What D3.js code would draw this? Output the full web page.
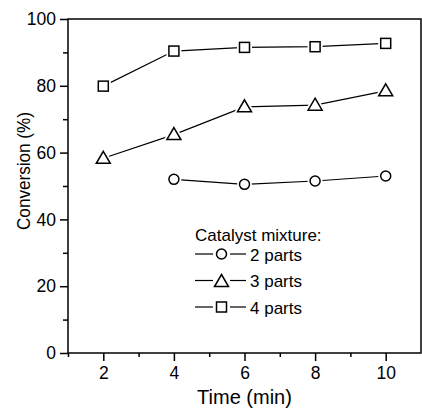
<!DOCTYPE html>
<meta charset="utf-8">
<script src="https://d3js.org/d3.v7.min.js"></script>
<style>
  body { margin: 0; background: #fff; }
  text { font-family: Arial, "Liberation Sans", sans-serif; fill: #000; }
</style>
<div id="chart"></div>
<script>
// data
var time = [2, 4, 6, 8, 10];
var time2 = [4, 6, 8, 10];
var parts2 = [52.0, 50.5, 51.5, 53.0];
var parts3 = [58.3, 65.4, 73.7, 74.2, 78.5];
var parts4 = [79.9, 90.4, 91.5, 91.7, 92.7];
var xTicks = [2, 4, 6, 8, 10];
var yTicks = [0, 20, 40, 60, 80, 100];
var legendLabels = ["2 parts", "3 parts", "4 parts"];

var W = 422, H = 408;
var margin = {top: 19, right: 1, bottom: 55, left: 68};

var svg = d3.select("#chart").append("svg")
  .attr("width", W).attr("height", H);

var x = d3.scaleLinear().domain([1, 11]).range([margin.left, W - margin.right]);
var y = d3.scaleLinear().domain([0, 100]).range([H - margin.bottom, margin.top]);

// box
svg.append("rect")
  .attr("x", x(1)).attr("y", y(100))
  .attr("width", x(11) - x(1)).attr("height", y(0) - y(100))
  .attr("fill", "none").attr("stroke", "#000").attr("stroke-width", 1.5);

// minor ticks
svg.append("g")
  .attr("transform", "translate(0," + y(0) + ")")
  .call(d3.axisBottom(x).tickValues([1, 3, 5, 7, 9]).tickSize(4).tickFormat(""))
  .call(g => g.select(".domain").remove());
svg.append("g")
  .attr("transform", "translate(" + x(1) + ",0)")
  .call(d3.axisLeft(y).tickValues([10, 30, 50, 70, 90]).tickSize(5).tickFormat(""))
  .call(g => g.select(".domain").remove());

// major ticks
svg.append("g")
  .attr("transform", "translate(0," + y(0) + ")")
  .call(d3.axisBottom(x).tickValues(xTicks).tickSize(8).tickPadding(6))
  .call(g => g.select(".domain").remove());
svg.append("g")
  .attr("transform", "translate(" + x(1) + ",0)")
  .call(d3.axisLeft(y).tickValues(yTicks).tickSize(8).tickPadding(4))
  .call(g => g.select(".domain").remove());

svg.selectAll(".tick line").attr("stroke-width", 1.5);
svg.selectAll(".tick text").style("font-size", "17.5px").attr("font-family", null);

// axis titles
svg.append("text")
  .attr("x", (x(1) + x(11)) / 2).attr("y", 404)
  .attr("text-anchor", "middle")
  .style("font-size", "20px")
  .text("Time (min)");
svg.append("text")
  .attr("transform", "translate(30,171) rotate(-90)")
  .attr("text-anchor", "middle")
  .attr("textLength", 118)
  .attr("lengthAdjust", "spacingAndGlyphs")
  .style("font-size", "19px")
  .text("Conversion (%)");

// series
var series = [
  {xs: time2, ys: parts2, shape: "circle"},
  {xs: time, ys: parts3, shape: "triangle"},
  {xs: time, ys: parts4, shape: "square"}
];

var line = d3.line().x(d => x(d[0])).y(d => y(d[1]));

function marker(g, shape, cx, cy) {
  var p;
  if (shape == "circle") {
    p = g.append("circle").attr("cx", cx).attr("cy", cy).attr("r", 5);
  } else if (shape == "square") {
    p = g.append("rect").attr("x", cx - 5).attr("y", cy - 5).attr("width", 10).attr("height", 10);
  } else {
    p = g.append("path").attr("d", "M" + cx + "," + (cy - 7) + "L" + (cx + 7) + "," + (cy + 5) + "L" + (cx - 7) + "," + (cy + 5) + "Z");
  }
  return p;
}

function drawMarker(g, shape, cx, cy) {
  marker(g, shape, cx, cy).attr("fill", "#fff").attr("stroke", "#fff").attr("stroke-width", 5);
  marker(g, shape, cx, cy).attr("fill", "#fff").attr("stroke", "#000").attr("stroke-width", 1.5);
}

series.forEach(function(s) {
  var pts = s.xs.map((t, i) => [t, s.ys[i]]);
  svg.append("path").datum(pts)
    .attr("d", line)
    .attr("fill", "none").attr("stroke", "#000").attr("stroke-width", 1.2);
  var g = svg.append("g");
  pts.forEach(p => drawMarker(g, s.shape, x(p[0]), y(p[1])));
});

// legend
svg.append("text")
  .attr("x", 195).attr("y", 241)
  .style("font-size", "17px")
  .text("Catalyst mixture:");

series.forEach(function(s, i) {
  var cy = 254 + i * 26.5;
  var g = svg.append("g");
  g.append("line").attr("x1", 195).attr("x2", 213).attr("y1", cy).attr("y2", cy)
    .attr("stroke", "#000").attr("stroke-width", 1.2);
  g.append("line").attr("x1", 230).attr("x2", 246).attr("y1", cy).attr("y2", cy)
    .attr("stroke", "#000").attr("stroke-width", 1.2);
  drawMarker(g, s.shape, 221.5, s.shape == "triangle" ? cy + 1 : cy);
  g.append("text").attr("x", 250).attr("y", cy + 6.5)
    .style("font-size", "17px")
    .text(legendLabels[i]);
});
</script>
